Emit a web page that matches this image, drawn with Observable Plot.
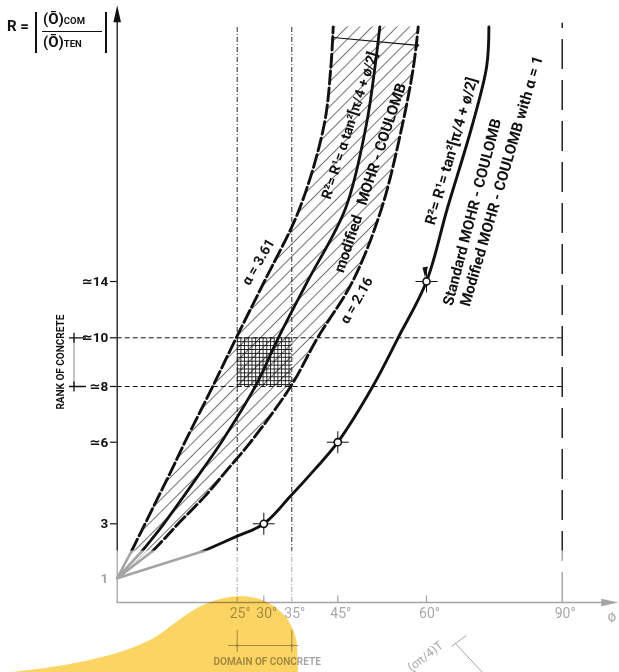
<!DOCTYPE html>
<html>
<head>
<meta charset="utf-8">
<script src="https://cdn.jsdelivr.net/npm/d3@7"></script>
<script src="https://cdn.jsdelivr.net/npm/@observablehq/plot@0.6"></script>
<style>
  html, body { margin: 0; padding: 0; background: #fff; }
  #wrap { position: relative; width: 619px; height: 672px; }
  #wrap svg { position: absolute; left: 0; top: 0; }
  .f { position: absolute; font-family: Roboto, "Liberation Sans", "DejaVu Sans", sans-serif; font-weight: 700; color: #111; white-space: nowrap; line-height: 1; }
  .bar { position: absolute; background: #111; }
  .f small { font-size: 9.5px; font-weight: 700; }
</style>
</head>
<body>
<div id="wrap">
  <div class="f" style="left:7px; top:19px; font-size:15px;">R =</div>
  <div class="bar" style="left:35px; top:12px; width:2.2px; height:41px;"></div>
  <div class="bar" style="left:105px; top:12px; width:2.2px; height:41px;"></div>
  <div class="f" style="left:43px; top:12px; font-size:15px;">(Ō)<small>COM</small></div>
  <div class="bar" style="left:42px; top:31px; width:60px; height:1.3px;"></div>
  <div class="f" style="left:43px; top:35px; font-size:15px;">(Ō)<small>TEN</small></div>
</div>
<script>
// ---------------- data ----------------
// R levels at which every curve was read (last value = top edge of the drawing)
const rLevels     = [1, 2,    2.5,  3,    4,    5,    6,    8,    10,   14,   20,   30,   40,   48.6];
// friction angle phi (degrees) of each curve at those R levels
const phiAlpha361 = [0, 3.0,  4.4,  5.8,  8.6,  11.4, 14.1, 19.9, 24.8, 30.1, 36.7, 42.0, 43.5, 44.0];
const phiModified = [0, 5.2,  7.5,  9.7,  13.8, 17.8, 21.7, 28.4, 32.6, 38.4, 46.3, 49.8, 51.3, 52.1];
const phiAlpha216 = [0, 7.4,  10.1, 12.7, 18.2, 23.0, 27.5, 34.8, 40.6, 47.5, 52.4, 55.9, 57.8, 58.6];
const phiStandard = [0, 18.0, 24.4, 30.0, 34.7, 40.0, 45.0, 50.9, 55.2, 60.0, 64.6, 70.1, 73.3, 73.8];

const markerPhi = [30, 45, 60];
const markerR   = [3, 6, 14];

const xTicks      = [25, 30, 35, 45, 60, 90];
const xTickLabels = ["25°", "30°", "35°", "45°", "60°", "90°"];
const yTicks      = [1, 3, 6, 8, 10, 14];
const yTickLabels = ["1", "3", "≃6", "≃8", "≃10", "≃14"];

const concreteRank   = [8, 10];   // R range of concrete
const concreteDomain = [25, 35];  // phi range of concrete

// hand-drawn (non-uniform) axes of the original diagram: value knots -> position knots
const xDomain = [0, 25, 30, 35, 45, 60, 90];
const xRange  = [116.7, 236.7, 263.3, 291.3, 337.3, 426, 561.7];
const yDomain = [0, 1, 3, 6, 8, 10, 14, 20, 30, 40, 50];
const yRange  = [602, 577.7, 523.3, 441.7, 386, 337.3, 281, 208, 125, 66, 20];

// ---------------- build ----------------
const INK = "#111";
const FONT = "Roboto, 'Liberation Sans', 'DejaVu Sans', sans-serif";
const phiToPos = d3.scaleLinear(xDomain, xRange);
const rToPos = d3.scaleLinear(yDomain, yRange);

const rows = rLevels.map((r, i) => ({r, a: phiAlpha361[i], m: phiModified[i], b: phiAlpha216[i], s: phiStandard[i]}));
const stem = rows.filter(d => d.r <= 2);
const main = rows.filter(d => d.r >= 2);
const markers = markerPhi.map((p, i) => ({p, r: markerR[i]}));

const crossSym = {draw(ctx, size) { const r = Math.sqrt(size / Math.PI); ctx.moveTo(-r, 0); ctx.lineTo(r, 0); ctx.moveTo(0, -r); ctx.lineTo(0, r); }};
const rankCross = {draw(ctx) { ctx.moveTo(-5, 0); ctx.lineTo(12, 0); ctx.moveTo(0, -5); ctx.lineTo(0, 5); }};
const upHead = {draw(ctx) { ctx.moveTo(0, 0); ctx.lineTo(3.8, 17); ctx.lineTo(-3.8, 17); ctx.closePath(); }};
const rightHead = {draw(ctx) { ctx.moveTo(0, 0); ctx.lineTo(-17, 3.8); ctx.lineTo(-17, -3.8); ctx.closePath(); }};
const downHead = {draw(ctx) { ctx.moveTo(-1.5, 5); ctx.lineTo(1.5, -6); ctx.lineTo(-4, -5); ctx.closePath(); }};

const txt = (text, x, y, rotate, opts = {}) =>
  Plot.text([text], {x: () => x, y: () => y, text: d => d, rotate, fontFamily: FONT, fontWeight: 700, fontSize: 15, fill: INK, textAnchor: "middle", ...opts});

const chart = Plot.plot({
  width: 619,
  height: 672,
  margin: 0,
  style: {fontFamily: FONT, background: "transparent"},
  x: {type: "linear", transform: phiToPos, domain: [0, 619], range: [0, 619]},
  y: {type: "linear", transform: rToPos, domain: [0, 672], range: [0, 672]},
  marks: [
    // hatched band between alpha = 3.61 and alpha = 2.16
    Plot.areaX(rows, {y: "r", x1: "b", x2: "a", fill: "url(#hatch)", curve: "catmull-rom"}),
    // domain of concrete (cross-hatched box)
    Plot.rect([{x1: concreteDomain[0], x2: concreteDomain[1], y1: concreteRank[0], y2: concreteRank[1]}],
      {x1: "x1", x2: "x2", y1: "y1", y2: "y2", fill: "url(#grid)"}),
    // guide lines
    Plot.ruleY(concreteRank, {x1: 0, x2: 90, stroke: INK, strokeWidth: 1, strokeDasharray: "5,3"}),
    Plot.ruleX(concreteDomain, {y1: 0, y2: 48.9, stroke: INK, strokeWidth: 0.9, strokeDasharray: "5,2,1,2"}),
    Plot.ruleX([90], {y1: 0, y2: 49.4, stroke: INK, strokeWidth: 1.4, strokeDasharray: "30,11"}),
    // axes
    Plot.ruleX([0], {y1: 0, y2: 50, stroke: INK, strokeWidth: 1.3}),
    Plot.ruleY([0], {x1: 0, x2: 99, stroke: INK, strokeWidth: 1.3}),
    Plot.dot([0], {x: () => 0, y: () => 53.3, r: 1, symbol: upHead, fill: INK, stroke: "none"}),
    Plot.dot([0], {x: () => 102.4, y: () => 0, r: 1, symbol: rightHead, fill: INK, stroke: "none"}),
    Plot.ruleY(yTicks.filter(d => d > 1), {x1: -1.4, x2: 0, stroke: INK, strokeWidth: 1.2}),
    Plot.ruleX([30, 45, 60], {y1: 0, y2: 0.27, stroke: INK, strokeWidth: 1.2}),
    Plot.text(yTicks, {x: () => 0, y: d => d, text: (d, i) => yTickLabels[i], dx: -9, textAnchor: "end", fontFamily: FONT, fontWeight: 700, fontSize: 13.5, fill: INK}),
    Plot.text(xTicks, {x: d => d, y: () => 0, text: (d, i) => xTickLabels[i], dx: 3, dy: 11, fontFamily: FONT, fontSize: 14, fill: INK}),
    txt("ø", 100.9, 0, -20, {dy: 14, fontSize: 15, fontWeight: 400}),
    // curve stems near R = 1
    Plot.line(stem, {x: "a", y: "r", stroke: INK, strokeWidth: 2.6}),
    Plot.line(stem, {x: "m", y: "r", stroke: INK, strokeWidth: 2.6}),
    Plot.line(stem, {x: "b", y: "r", stroke: INK, strokeWidth: 2.6}),
    Plot.line(stem, {x: "s", y: "r", stroke: INK, strokeWidth: 2.6}),
    // curves
    Plot.line(main, {x: "a", y: "r", stroke: INK, strokeWidth: 2.9, strokeDasharray: "13,4", curve: "catmull-rom"}),
    Plot.line(main, {x: "m", y: "r", stroke: INK, strokeWidth: 2.8, curve: "catmull-rom"}),
    Plot.line(main, {x: "b", y: "r", stroke: INK, strokeWidth: 2.9, strokeDasharray: "13,4", curve: "catmull-rom"}),
    Plot.line(main, {x: "s", y: "r", stroke: INK, strokeWidth: 2.9, curve: "catmull-rom"}),
    // test points on the standard curve
    Plot.dot(markers, {x: "p", y: "r", r: 11, symbol: crossSym, stroke: INK, strokeWidth: 1, fill: "none"}),
    Plot.dot(markers, {x: "p", y: "r", r: 3.6, fill: "white", stroke: INK, strokeWidth: 1.6}),
    Plot.dot(markers.slice(2), {x: "p", y: "r", r: 1, symbol: downHead, fill: INK, stroke: "none", dy: -9}),
    // spread arrow at the top of the band
    Plot.link([{x1: 44, y1: 46.3, x2: 58.5, y2: 44.6}], {x1: "x1", y1: "y1", x2: "x2", y2: "y2", stroke: INK, strokeWidth: 1.1, markerStart: "arrow", markerEnd: "arrow"}),
    // rank of concrete bracket
    Plot.ruleX([-9], {y1: concreteRank[0], y2: concreteRank[1], stroke: "#888", strokeWidth: 1}),
    Plot.dot(concreteRank, {x: () => -9, y: d => d, r: 1, symbol: rankCross, stroke: INK, strokeWidth: 1.3, fill: "none"}),
    txt("RANK OF CONCRETE", -11.8, 9, -90, {fontSize: 10}),
    // domain of concrete bracket
    Plot.ruleY([-1.77], {x1: 23.2, x2: 36.5, stroke: INK, strokeWidth: 1}),
    Plot.ruleX(concreteDomain, {y1: -1.15, y2: -2.06, stroke: INK, strokeWidth: 1}),
    Plot.dot(concreteDomain, {x: d => d, y: () => -1.77, r: 1.6, fill: INK}),
    txt("DOMAIN OF CONCRETE", 30.6, -2.42, 0, {fontSize: 10}),
    // curve annotations (centred on the reference positions)
    txt("α = 3.61", 29.0, 15.6, -60, {fontSize: 14}),
    txt("R²= R¹= α tan²[π/4 + ø/2]", 47.0, 30.0, -72, {fontSize: 14}),
    txt("modified   MOHR - COULOMB", 50.5, 23.7, -71.6),
    txt("α = 2.16", 48.2, 12.65, -60, {fontSize: 14}),
    txt("R²= R¹= tan²[π/4 + ø/2]", 65.5, 26.9, -73.7),
    txt("Standard MOHR - COULOMB", 70.1, 19.7, -75.3),
    txt("Modified MOHR - COULOMB with α = 1", 76.6, 23.3, -73.6),
    // partial figure at the bottom right
    txt("(σπ/4)T", 59.8, -2.22, -38, {fontWeight: 400, fontSize: 12}),
    Plot.link([{x1: 65.5, y1: -1.81, x2: 68.8, y2: -1.36}, {x1: 66.4, y1: -1.69, x2: 72.4, y2: -2.88}],
      {x1: "x1", y1: "y1", x2: "x2", y2: "y2", stroke: INK, strokeWidth: 1})
  ]
});

// patterns
const svg = d3.select(chart);
const defs = svg.insert("defs", ":first-child");
const hatch = defs.append("pattern").attr("id", "hatch").attr("patternUnits", "userSpaceOnUse")
  .attr("width", 8.8).attr("height", 9).attr("patternTransform", "rotate(45)");
hatch.append("line").attr("x1", 0).attr("y1", -1).attr("x2", 0).attr("y2", 10).attr("stroke", "#000").attr("stroke-width", 1.1);
const grid = defs.append("pattern").attr("id", "grid").attr("patternUnits", "userSpaceOnUse")
  .attr("x", phiToPos(concreteDomain[0])).attr("y", rToPos(concreteRank[1]))
  .attr("width", 3.7).attr("height", 3.9);
grid.append("path").attr("d", "M0.5,0V3.9M0,0.5H3.7").attr("stroke", INK).attr("stroke-width", 0.9);

// faded lower strip of the scan
const fadeY = rToPos(2);
svg.append("rect").attr("x", 0).attr("y", fadeY).attr("width", 619).attr("height", 672 - fadeY)
  .attr("fill", "white").attr("fill-opacity", 0.62);
// yellow highlighter blob
svg.append("path")
  .attr("d", "M240,596 C268,596 294,615 297,645 L298,672 L12,672 C50,668 110,660 150,640 C175,627 195,598 240,596 Z")
  .attr("fill", "#fcd464").style("mix-blend-mode", "multiply");

document.getElementById("wrap").prepend(chart);
</script>
</body>
</html>
